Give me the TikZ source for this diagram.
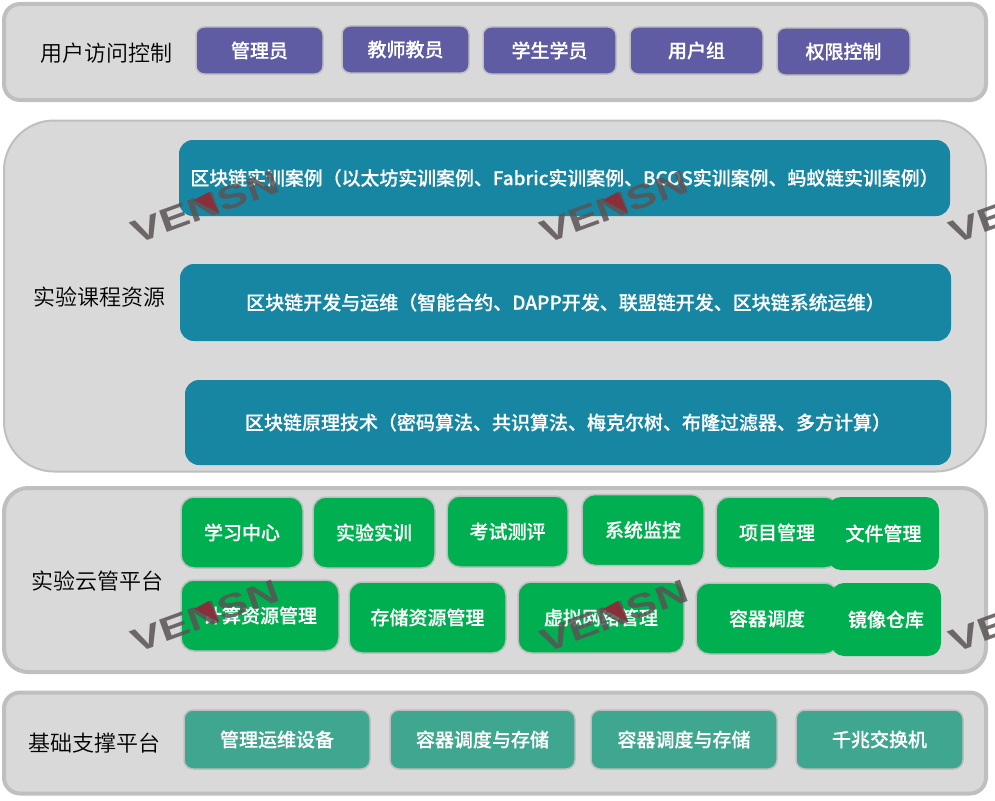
\documentclass[tikz,border=0pt]{standalone}
\usepackage{fontspec}
\setmainfont{Noto Sans CJK SC DemiLight}[BoldFont=Noto Sans CJK SC Medium, BoldFeatures={FakeBold=0.35}]
\newfontfamily\logofont{Liberation Sans}
\definecolor{panelgray}{HTML}{D9D9D9}
\definecolor{panelline}{HTML}{BFBFBF}
\definecolor{boxpurple}{HTML}{5F5CA3}
\definecolor{boxteal}{HTML}{1786A2}
\definecolor{boxgreen}{HTML}{00B050}
\definecolor{boxsea}{HTML}{3FA78F}
\definecolor{logogray}{HTML}{5A5354}
\definecolor{logored}{HTML}{8A2F3A}
\begin{document}
\begin{tikzpicture}[x=1pt, y=-1pt,
  panel/.style={draw=panelline, line width=4pt, fill=panelgray, rounded corners=16pt, minimum width=982pt},
  title/.style={font=\fontsize{22}{24}\selectfont, inner sep=0pt, text=black},
  block/.style={draw=panelline, line width=1.5pt, text=white, inner sep=0pt, font=\fontsize{19}{21}\selectfont\bfseries},
  useblock/.style={block, fill=boxpurple, rounded corners=8pt, minimum height=47pt},
  courseblock/.style={block, draw=none, fill=boxteal, rounded corners=14pt},
  cloudblock/.style={block, fill=boxgreen, rounded corners=13pt, minimum height=71pt},
  baseblock/.style={block, fill=boxsea, rounded corners=9pt, minimum height=59pt},
  logo/.style={font=\logofont\fontsize{33}{33}\selectfont\bfseries, text=logogray, opacity=0.85, rotate=20, xscale=1.36, inner sep=0pt}]

  \useasboundingbox (0,0) rectangle (995,800);

  % Panels
  \node[panel, minimum height=96pt] (P1) at (495,52) {};
  \node[panel, line width=2pt, rounded corners=50pt, minimum height=351pt] (P2) at (495,296) {};
  \node[panel, rounded corners=24pt, minimum height=184pt] (P3) at (495,580) {};
  \node[panel, minimum height=101pt] (P4) at (495,743) {};

  % Labels
  \node[title] (T1) at (106,53) {用户访问控制};
  \node[title] (T2) at (99,297) {实验课程资源};
  \node[title] (T3) at (97.5,581) {实验云管平台};
  \node[title] (T4) at (94,743) {基础支撑平台};

  % First panel
  \node[useblock, minimum width=127pt] (U1) at (259.5,50.5) {管理员};
  \node[useblock, minimum width=127pt] (U2) at (405.5,49.5) {教师教员};
  \node[useblock, minimum width=133pt] (U3) at (549.5,50.5) {学生学员};
  \node[useblock, minimum width=133pt] (U4) at (696.5,50.5) {用户组};
  \node[useblock, minimum width=133pt] (U5) at (843.5,51.5) {权限控制};

  % Second panel
  \node[courseblock, minimum width=771pt, minimum height=76pt] (K1) at (564.5,178) {\fontsize{18.9}{21}\selectfont 区块链实训案例（以太坊实训案例、Fabric实训案例、BCOS实训案例、蚂蚁链实训案例）};
  \node[courseblock, minimum width=771pt, minimum height=77pt] (K2) at (565.5,302.5) {区块链开发与运维（智能合约、DAPP开发、联盟链开发、区块链系统运维）};
  \node[courseblock, minimum width=766pt, minimum height=85pt] (K3) at (568,422.5) {区块链原理技术（密码算法、共识算法、梅克尔树、布隆过滤器、多方计算）};

  % Third panel, first row
  \node[cloudblock, minimum width=122pt] (Y1) at (242,532.5) {学习中心};
  \node[cloudblock, minimum width=122pt] (Y2) at (374,532.5) {实验实训};
  \node[cloudblock, minimum width=121pt] (Y3) at (507.5,531.5) {考试测评};
  \node[cloudblock, minimum width=122pt] (Y4) at (643,530) {系统监控};
  \node[cloudblock, minimum width=122pt] (Y5) at (777,532.5) {项目管理};
  \node[cloudblock, draw=none, minimum width=111pt, minimum height=73pt] (Y6) at (883.5,533.5) {文件管理};

  % Third panel, second row
  \node[cloudblock, minimum width=158pt] (Z1) at (260,615.5) {计算资源管理};
  \node[cloudblock, minimum width=157pt] (Z2) at (427.5,617.5) {存储资源管理};
  \node[cloudblock, minimum width=166pt] (Z3) at (601,617.5) {虚拟网络管理};
  \node[cloudblock, minimum width=142pt] (Z4) at (767,618.5) {容器调度};
  \node[cloudblock, draw=none, minimum width=110pt, minimum height=73pt] (Z5) at (886,619.5) {镜像仓库};

  % Fourth panel
  \node[baseblock, minimum width=186pt] (J1) at (277,739.5) {管理运维设备};
  \node[baseblock, minimum width=185pt] (J2) at (482.5,739.5) {容器调度与存储};
  \node[baseblock, minimum width=186pt] (J3) at (684,739.5) {容器调度与存储};
  \node[baseblock, minimum width=167pt] (J4) at (879.5,739.5) {千兆交换机};

  % Watermark
  \node[logo] (W1) at (205,207) {VENSN};
  \node[logo] (W2) at (614,207) {VENSN};
  \node[logo] (W3) at (1023,207) {VENSN};
  \node[logo] (W4) at (205,616) {VENSN};
  \node[logo] (W5) at (614,616) {VENSN};
  \node[logo] (W6) at (1023,616) {VENSN};
  \fill[logored] (194,200) -- (209,192) -- (219,213) -- cycle;
  \fill[logored] (603,200) -- (618,192) -- (628,213) -- cycle;
  \fill[logored] (194,609) -- (209,601) -- (219,622) -- cycle;
  \fill[logored] (603,609) -- (618,601) -- (628,622) -- cycle;

\end{tikzpicture}
\end{document}
